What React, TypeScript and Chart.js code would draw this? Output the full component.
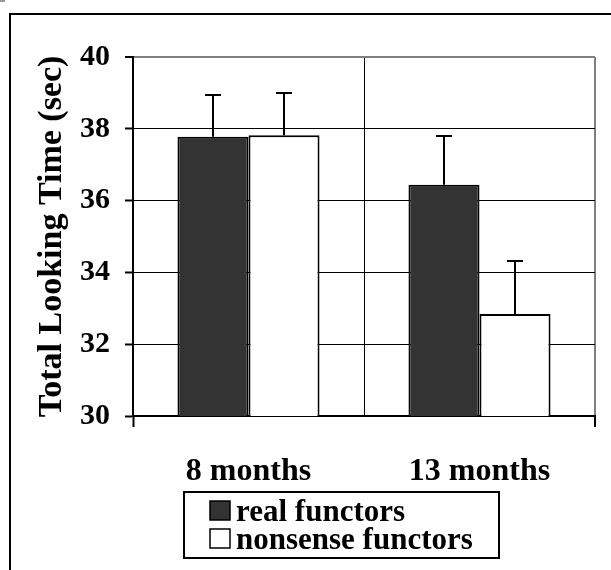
import { useEffect, useRef } from 'react';
import { Chart, registerables } from 'chart.js';

Chart.register(...registerables);

const categories = ['8 months', '13 months'];
const seriesNames = ['real functors', 'nonsense functors'];
const realValues = [37.78, 36.44];
const realErrors = [1.16, 1.35];
const nonsenseValues = [37.82, 32.84];
const nonsenseErrors = [1.19, 1.49];
const yTicks = [30, 32, 34, 36, 38, 40];
const yTitle = 'Total Looking Time (sec)';

const FONT = "'Times New Roman', 'Liberation Serif', serif";
const DARK = '#333333';

const errorBarPlugin = {
  id: 'errorBars',
  afterDatasetsDraw(chart: any) {
    const ctx = chart.ctx;
    const yScale = chart.scales.y;
    ctx.save();
    ctx.strokeStyle = '#000';
    ctx.lineWidth = 2;
    chart.data.datasets.forEach((ds: any, i: number) => {
      const meta = chart.getDatasetMeta(i);
      meta.data.forEach((el: any, j: number) => {
        const v = ds.data[j];
        const e = ds.errors[j];
        const yTop = Math.round(yScale.getPixelForValue(v + e));
        const x = Math.round(el.x);
        ctx.beginPath();
        ctx.moveTo(x, el.y);
        ctx.lineTo(x, yTop);
        ctx.moveTo(x - 8, yTop);
        ctx.lineTo(x + 8, yTop);
        ctx.stroke();
      });
    });
    ctx.restore();
  },
};

const framePlugin = {
  id: 'frameAndLegend',
  beforeDraw(chart: any) {
    const ctx = chart.ctx;
    ctx.save();
    ctx.fillStyle = '#fff';
    ctx.fillRect(0, 0, chart.width, chart.height);
    ctx.fillStyle = '#999';
    ctx.fillRect(0, 0, 5, 2);
    ctx.strokeStyle = '#000';
    ctx.lineWidth = 2;
    ctx.strokeRect(10, 14, 700, 700);
    ctx.restore();
  },
  afterDraw(chart: any) {
    const ctx = chart.ctx;
    ctx.save();
    ctx.strokeStyle = '#000';
    ctx.lineWidth = 2;
    ctx.strokeRect(184, 492, 315, 66);
    ctx.font = `bold 31px ${FONT}`;
    ctx.textBaseline = 'alphabetic';
    ctx.textAlign = 'left';
    chart.data.datasets.forEach((ds: any, i: number) => {
      const top = 501 + i * 28;
      ctx.fillStyle = ds.backgroundColor;
      ctx.fillRect(210, top, 20, 19);
      ctx.lineWidth = 1.5;
      ctx.strokeStyle = '#000';
      ctx.strokeRect(210, top, 20, 19);
      ctx.fillStyle = '#000';
      ctx.fillText(ds.label, 236, top + 20);
    });
    ctx.restore();
  },
};

export default function App() {
  const ref = useRef<HTMLCanvasElement | null>(null);

  useEffect(() => {
    if (!ref.current) return;
    const chart = new Chart(ref.current, {
      type: 'bar',
      data: {
        labels: categories,
        datasets: [
          {
            label: seriesNames[0],
            data: realValues,
            errors: realErrors,
            backgroundColor: DARK,
            borderColor: '#000',
            borderWidth: 2,
          } as any,
          {
            label: seriesNames[1],
            data: nonsenseValues,
            errors: nonsenseErrors,
            backgroundColor: '#ffffff',
            borderColor: '#000',
            borderWidth: 2,
          } as any,
        ],
      },
      options: {
        responsive: false,
        animation: false,
        devicePixelRatio: 1,
        layout: { padding: { left: 0, top: 57, right: 16, bottom: 0 } },
        datasets: { bar: { categoryPercentage: 0.615, barPercentage: 1 } },
        plugins: {
          legend: { display: false },
          tooltip: { enabled: false },
          title: { display: false },
        },
        scales: {
          x: {
            offset: true,
            grid: {
              offset: true,
              color: (c: any) => (c.index === undefined ? '#808080' : '#000'),
              lineWidth: (c: any) => (c.index === undefined ? 2 : 1),
              tickLength: 11,
              tickColor: (c: any) => (c.index === 1 ? 'rgba(0,0,0,0)' : '#000'),
              tickWidth: 2,
            },
            border: { display: true, color: '#000', width: 2 },
            ticks: {
              color: '#000',
              font: { family: FONT, size: 32, weight: 'bold' },
              padding: 26,
              maxRotation: 0,
            },
            afterFit: (s: any) => {
              s.height = 154;
            },
          },
          y: {
            min: yTicks[0],
            max: yTicks[yTicks.length - 1],
            ticks: {
              stepSize: yTicks[1] - yTicks[0],
              color: '#000',
              font: { family: FONT, size: 30, weight: 'bold' },
              padding: 15,
            },
            grid: {
              color: (c: any) => (c.tick && c.tick.value === yTicks[yTicks.length - 1] ? '#808080' : '#000'),
              lineWidth: (c: any) => (c.tick && c.tick.value === yTicks[yTicks.length - 1] ? 2 : 1),
              tickLength: 8,
              tickColor: '#000',
              tickWidth: 2,
            },
            border: { display: true, color: '#000', width: 2 },
            title: {
              display: true,
              text: yTitle,
              color: '#000',
              font: { family: FONT, size: 34, weight: 'bold' },
              padding: { top: 32, bottom: 0 },
            },
            afterFit: (s: any) => {
              s.width = 133;
            },
          },
        },
      },
      plugins: [framePlugin, errorBarPlugin],
    } as any);
    return () => chart.destroy();
  }, []);

  return (
    <div style={{ position: 'absolute', left: 0, top: 0, width: 611, height: 570 }}>
      <canvas ref={ref} width={611} height={570} style={{ display: 'block' }} />
    </div>
  );
}
